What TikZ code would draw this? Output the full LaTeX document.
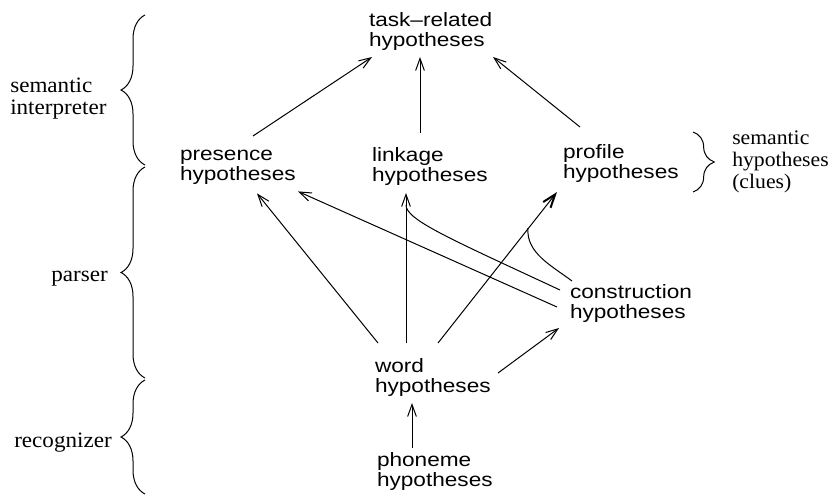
\documentclass[tikz,border=0pt]{standalone}
\usepackage{fontspec}
\usetikzlibrary{positioning,calc,arrows.meta,decorations.pathreplacing}
\newfontfamily\hypfont[FakeStretch=1.17,Ligatures=TeX]{Liberation Sans}
\newfontfamily\labelfont[FakeStretch=1.05,Ligatures=TeX]{Liberation Serif}

\begin{document}
\begin{tikzpicture}[
    x=0.75pt, y=0.75pt,
    hyp_node/.style={anchor=north west,align=left,inner sep=0pt,outer sep=0pt,
        font=\hypfont\fontsize{14.5}{15}\selectfont,execute at begin node=\vphantom{h}},
    layer_label/.style={align=left,inner sep=0pt,font=\labelfont\fontsize{16.5}{16}\selectfont},
    arrow_line/.style={line width=0.75pt,-{Straight Barb[length=9pt,width=6.5pt]}},
    layer_brace/.style={line width=0.75pt,decorate,decoration={brace,amplitude=18pt}}
]
\useasboundingbox (0,0) rectangle (833,-496);

% Hypothesis nodes
\node[hyp_node] (task) at (369,-12) {task--related\\hypotheses};
\node[hyp_node] (presence) at (180,-150) {presence\\hypotheses};
\node[hyp_node] (linkage) at (372,-147) {linkage\\hypotheses};
\node[hyp_node] (profile) at (563,-144) {profile\\hypotheses};
\node[hyp_node] (cons) at (570,-284) {construction\\hypotheses};
\node[hyp_node] (word) at (375,-358) {word\\hypotheses};
\node[hyp_node] (phoneme) at (377,-452) {phoneme\\hypotheses};

% Layer labels and braces
\node[layer_label,anchor=north west] (interp_label) at (10,-78) {semantic\\interpreter};
\node[layer_label,anchor=base east] (parser_label) at (108,-281) {parser};
\node[layer_label,anchor=base east] (recog_label) at (112,-447) {recognizer};
\node[layer_label,anchor=north west,font=\labelfont\fontsize{15.5}{16.5}\selectfont]
    (clues_label) at (732,-131) {semantic\\hypotheses\\(clues)};
\draw[layer_brace] (145,-165) -- (145,-15);
\draw[layer_brace] (145,-378) -- (145,-167);
\draw[layer_brace] (145,-494) -- (145,-380);
\draw[layer_brace,decoration={brace,amplitude=16pt}] (693,-132) -- (693,-192);

% Semantic interpreter
\draw[arrow_line] ($(presence.north west)+(73,14)$) -- ($(task.south west)+(3,-7)$);
\draw[arrow_line] ($(linkage.north west)+(48,14)$) -- ($(task.south west)+(51,-7)$);
\draw[arrow_line] ($(profile.north west)+(17,17)$) -- ($(task.south west)+(124,-7)$);

% Parser
\draw[arrow_line] ($(word.north west)+(3,15)$) -- ($(presence.south west)+(77,-9)$);
\draw[arrow_line] ($(word.north west)+(31,15)$) -- ($(linkage.south west)+(34,-8)$);
\draw[arrow_line,-{Straight Barb[length=10pt,width=7pt,line width=1.5pt]}]
    ($(word.north west)+(63,15)$) -- ($(profile.south west)+(-6,-10)$);
\draw[arrow_line] ($(word.north west)+(123,-15)$) -- ($(cons.south west)+(-11,-6)$);
\draw[arrow_line] ($(cons.north west)+(-13,-23)$) -- ($(presence.south west)+(118,-7)$);
\draw[line width=0.75pt] ($(cons.north west)+(-10,-6)$) .. controls +(155:120) and +(-90:15) .. ($(linkage.south west)+(34,-20)$);
\draw[line width=0.75pt] ($(cons.north west)+(2,3)$) .. controls +(143:25) and +(-95:25) .. ($(profile.south west)+(-35,-46)$);

% Recognizer
\draw[arrow_line] ($(phoneme.north west)+(35,4)$) -- ($(word.south west)+(37,-7)$);

\end{tikzpicture}
\end{document}
